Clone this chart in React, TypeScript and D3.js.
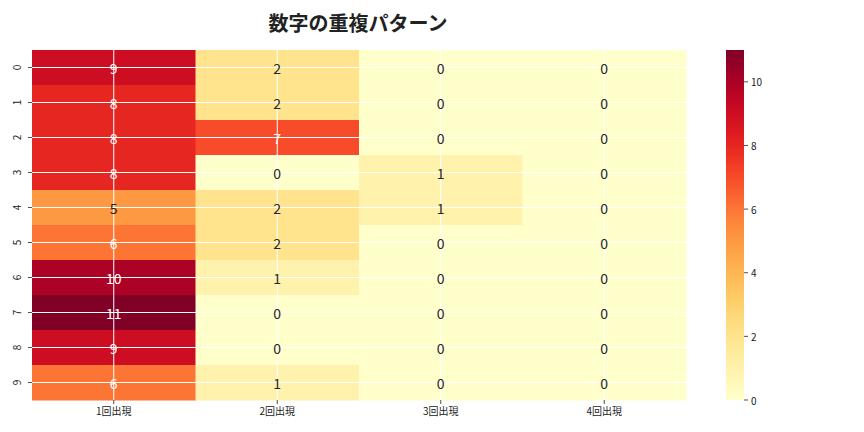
import { useEffect, useRef } from "react";
import * as d3 from "d3";

const rowLabels = ["0", "1", "2", "3", "4", "5", "6", "7", "8", "9"];
const colLabels = ["1回出現", "2回出現", "3回出現", "4回出現"];
const once = [9, 8, 8, 8, 5, 6, 10, 11, 9, 6];
const twice = [2, 2, 7, 0, 2, 2, 1, 0, 0, 1];
const thrice = [0, 0, 0, 1, 1, 0, 0, 0, 0, 0];
const fourTimes = [0, 0, 0, 0, 0, 0, 0, 0, 0, 0];
const cbTicks = [0, 2, 4, 6, 8, 10];
const vmax = 11;

const FONT = "'Noto Sans CJK JP', 'DejaVu Sans', sans-serif";

export default function App(): JSX.Element {
  const ref = useRef<SVGSVGElement | null>(null);

  useEffect(() => {
    if (!ref.current) return;
    const width = 864;
    const height = 432;
    const svg = d3.select(ref.current);
    svg.selectAll("*").remove();

    const cols = [once, twice, thrice, fourTimes];
    const cells = rowLabels.flatMap((r, i) =>
      colLabels.map((c, j) => ({ r, c, v: cols[j][i] })),
    );

    const x = d3.scaleBand<string>().domain(colLabels).range([32, 686]);
    const y = d3.scaleBand<string>().domain(rowLabels).range([50, 400]);
    const color = d3.scaleSequential(d3.interpolateYlOrRd).domain([0, vmax]);

    svg
      .append("rect")
      .attr("width", width)
      .attr("height", height)
      .attr("fill", "#fff");

    svg
      .append("g")
      .selectAll("rect")
      .data(cells)
      .join("rect")
      .attr("x", (d) => x(d.c) ?? 0)
      .attr("y", (d) => y(d.r) ?? 0)
      .attr("width", x.bandwidth() + 0.5)
      .attr("height", y.bandwidth() + 0.5)
      .attr("fill", (d) => color(d.v));

    // white grid lines through cell centres
    const grid = svg.append("g").attr("stroke", "#fff").attr("stroke-width", 1);
    colLabels.forEach((c) => {
      const cx = (x(c) ?? 0) + x.bandwidth() / 2;
      grid.append("line").attr("x1", cx).attr("x2", cx).attr("y1", 50).attr("y2", 400);
    });
    rowLabels.forEach((r) => {
      const cy = (y(r) ?? 0) + y.bandwidth() / 2;
      grid.append("line").attr("x1", 32).attr("x2", 686).attr("y1", cy).attr("y2", cy);
    });

    svg
      .append("g")
      .selectAll("text")
      .data(cells)
      .join("text")
      .attr("x", (d) => (x(d.c) ?? 0) + x.bandwidth() / 2)
      .attr("y", (d) => (y(d.r) ?? 0) + y.bandwidth() / 2)
      .attr("text-anchor", "middle")
      .attr("dominant-baseline", "central")
      .attr("font-family", FONT)
      .attr("font-size", 14)
      .attr("fill", (d) => (d.v >= 6 ? "#fff" : "#262626"))
      .text((d) => d.v);

    // x axis
    const xa = svg.append("g").attr("font-family", FONT).attr("font-size", 10);
    colLabels.forEach((c) => {
      const cx = (x(c) ?? 0) + x.bandwidth() / 2;
      xa.append("line")
        .attr("x1", cx)
        .attr("x2", cx)
        .attr("y1", 400)
        .attr("y2", 404)
        .attr("stroke", "#222")
        .attr("stroke-width", 0.8);
      xa.append("text")
        .attr("x", cx)
        .attr("y", 415)
        .attr("text-anchor", "middle")
        .attr("fill", "#222")
        .text(c);
    });

    // y axis
    const ya = svg.append("g").attr("font-family", FONT).attr("font-size", 10);
    rowLabels.forEach((r) => {
      const cy = (y(r) ?? 0) + y.bandwidth() / 2;
      ya.append("line")
        .attr("x1", 28)
        .attr("x2", 32)
        .attr("y1", cy)
        .attr("y2", cy)
        .attr("stroke", "#222")
        .attr("stroke-width", 0.8);
      ya.append("text")
        .attr("transform", `translate(21,${cy}) rotate(-90)`)
        .attr("text-anchor", "middle")
        .attr("fill", "#222")
        .text(r);
    });

    // colorbar
    const cbX = 726;
    const cbW = 18;
    const cy = d3.scaleLinear().domain([0, vmax]).range([400, 50]);
    const defs = svg.append("defs");
    const grad = defs
      .append("linearGradient")
      .attr("id", "cbgrad")
      .attr("x1", 0)
      .attr("y1", 1)
      .attr("x2", 0)
      .attr("y2", 0);
    d3.range(0, 1.0001, 0.05).forEach((t) => {
      grad
        .append("stop")
        .attr("offset", t)
        .attr("stop-color", color(t * vmax));
    });
    svg
      .append("rect")
      .attr("x", cbX)
      .attr("y", 50)
      .attr("width", cbW)
      .attr("height", 350)
      .attr("fill", "url(#cbgrad)");
    const cb = svg.append("g").attr("font-family", FONT).attr("font-size", 10);
    cbTicks.forEach((t) => {
      cb.append("line")
        .attr("x1", cbX + cbW)
        .attr("x2", cbX + cbW + 4)
        .attr("y1", cy(t))
        .attr("y2", cy(t))
        .attr("stroke", "#222")
        .attr("stroke-width", 0.8);
      cb.append("text")
        .attr("x", cbX + cbW + 7)
        .attr("y", cy(t))
        .attr("dominant-baseline", "central")
        .attr("fill", "#222")
        .text(t);
    });

    svg
      .append("text")
      .attr("x", 358)
      .attr("y", 22)
      .attr("text-anchor", "middle")
      .attr("dominant-baseline", "central")
      .attr("font-family", FONT)
      .attr("font-size", 20)
      .attr("font-weight", "bold")
      .attr("fill", "#222")
      .text("数字の重複パターン");
  }, []);

  return (
    <svg
      ref={ref}
      width={864}
      height={432}
      style={{ position: "absolute", left: 0, top: 0, display: "block" }}
    />
  );
}
